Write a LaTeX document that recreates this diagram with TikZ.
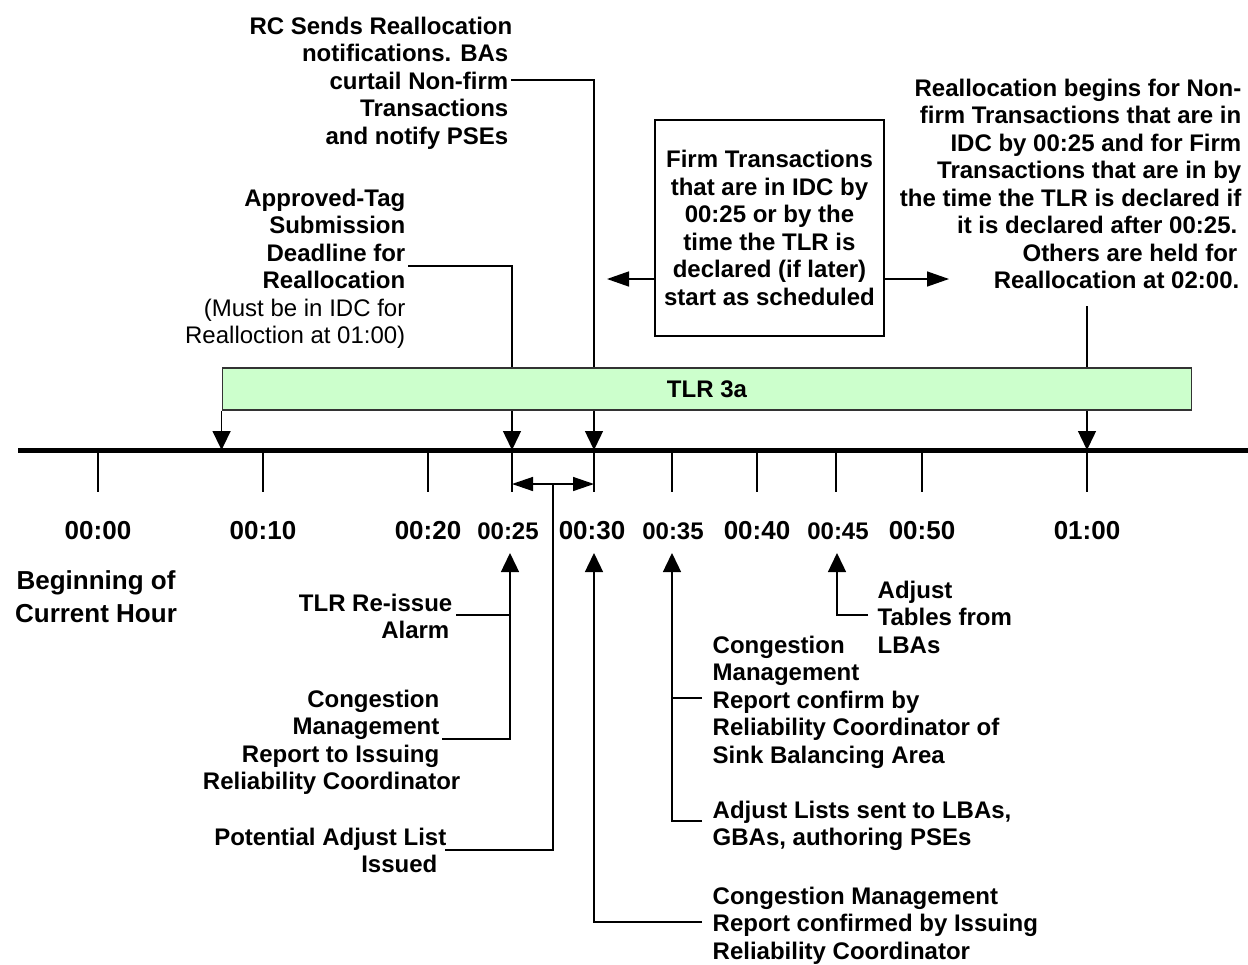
\documentclass[tikz,border=0pt]{standalone}
\usepackage{fontspec}
\setmainfont{Liberation Sans}
\usetikzlibrary{arrows.meta,calc,positioning}
\definecolor{tlrgreen}{HTML}{CCFFCC}
\newcommand{\notesize}{\fontsize{13.66pt}{15.65pt}\selectfont}
\newcommand{\hoursize}{\fontsize{14.8pt}{18.8pt}\selectfont}
\tikzset{
    timeline/.style={x=0.02cm,y=-0.02cm,line width=0.8pt,
                     >={Triangle[length=0.38cm,width=0.36cm]}},
    note/.style={font=\notesize\bfseries,inner sep=0pt,anchor=north east,align=right},
    noteleft/.style={font=\notesize\bfseries,inner sep=0pt,anchor=north west,align=left},
    hourlbl/.style={font=\hoursize\bfseries,inner sep=0pt},
    minlbl/.style={font=\notesize\bfseries,inner sep=0pt},
    tlrbar/.style={draw=black!80,line width=0.6pt,fill=tlrgreen,minimum width=19.4cm,
                   minimum height=0.84cm,inner sep=0pt,font=\notesize\bfseries},
    rulebox/.style={draw,line width=1.1pt,minimum width=4.58cm,minimum height=4.32cm,
                    align=center,inner sep=0pt,font=\notesize\bfseries},
    boxarrow/.style={-{Triangle[length=0.44cm,width=0.3cm]}},
    spanarrow/.style={{Triangle[length=0.42cm,width=0.28cm]}-{Triangle[length=0.42cm,width=0.28cm]}},
}
\begin{document}
\begin{tikzpicture}[timeline]
\useasboundingbox (0,0) rectangle (1248,964);

% time axis
\coordinate (axl) at (18,450);
\coordinate (axr) at (1248,450);
\draw[line width=2.85pt] (axl) -- (axr);
\foreach \m/\x in {0/98,10/263,20/428,25/512,30/594,35/672,40/757,45/836,50/922,60/1087} {
    \coordinate (t\m) at (\x,450);
    \draw (t\m) -- ++(0,42);
}
\foreach \m/\x/\lbl in {0/98/00:00,10/263/00:10,20/428/00:20,30/592/00:30,40/757/00:40,50/922/00:50,60/1087/01:00}
    \node[hourlbl] (h\m) at (\x,531) {\lbl};
\foreach \m/\x/\lbl in {25/508/00:25,35/673/00:35,45/838/00:45}
    \node[minlbl] (h\m) at (\x,531) {\lbl};
\node[hourlbl,align=center,anchor=north] (hourstart) at (96,570) {Beginning of\\Current Hour};

% events above the axis
\node[note] (rc) at (509,16) {RC Sends Reallocation\kern-0.08cm\\notifications. BAs\\curtail Non-firm\\Transactions\\and notify PSEs};
\node[note] (tag) at (406,188) {Approved-Tag\\Submission\\Deadline for\\Reallocation\\{\mdseries (Must be in IDC for}\\{\mdseries Realloction at 01:00)}};
\coordinate (rcend) at (511,80);
\coordinate (tagend) at (408,266);
\draw[->] (rcend) -| (t30);
\draw[->] (tagend) -| (t25);

\node[rulebox] (firm) at (769.5,228) {Firm Transactions\\that are in IDC by\\00:25 or by the\\time the TLR is\\declared (if later)\\start as scheduled};
\coordinate (firml) at (607,279);
\coordinate (firmr) at (949,279);
\draw[boxarrow] (firm.west |- firml) -- (firml);
\draw[boxarrow] (firm.east |- firmr) -- (firmr);

\node[note] (realloc) at (1242,78) {Reallocation begins for Non-\\firm Transactions that are in\\IDC by 00:25 and for Firm\\Transactions that are in by\\the time the TLR is declared if\\it is declared after 00:25.\kern0.08cm\\Others are held for\kern0.08cm\\Reallocation at 02:00.\kern0.04cm};
\coordinate (reallocend) at (1087,306);
\draw[->] (reallocend) -- (t60);

\node[tlrbar] (tlr) at (707,389) {TLR 3a};
\draw[->] (tlr.south west) -- (tlr.south west |- t0);

% events below the axis
\coordinate (d25) at (512,484);
\coordinate (d30) at (594,484);
\coordinate (dmid) at ($(d25)!0.5!(d30)$);
\draw[spanarrow] (d25) -- (d30);

\coordinate (u25) at (510,553);
\coordinate (u30) at (594,553);
\coordinate (u35) at (672,553);
\coordinate (u45) at (837,553);

\node[note] (reissue) at (450,593) {TLR Re-issue\kern-0.06cm\\Alarm};
\coordinate (reissueend) at (456,615);
\draw (reissueend) -- (reissueend -| u25);

\node[note] (cmr) at (440,689) {Congestion\\Management\\Report to Issuing\\Reliability Coordinator\kern-0.42cm};
\coordinate (cmrend) at (442,739);
\draw[->] (cmrend) -| (u25);

\node[note] (pal) at (438,827) {Potential Adjust List\kern-0.18cm\\Issued};
\coordinate (palend) at (445,850);
\draw (palend) -| (dmid);

\node[noteleft] (adj) at (877,580) {Adjust\\Tables from\\LBAs};
\coordinate (adjend) at (868,615);
\draw[->] (adjend) -| (u45);

\node[noteleft] (cmc) at (712,635) {Congestion\\Management\\Report confirm by\\Reliability Coordinator of\\Sink Balancing Area};
\node[noteleft] (als) at (712,800) {Adjust Lists sent to LBAs,\\GBAs, authoring PSEs};
\coordinate (cmcend) at (702,698);
\coordinate (alsend) at (702,821);
\draw (cmcend) -- (cmcend -| u35);
\draw[->] (alsend) -| (u35);

\node[noteleft] (cmi) at (712,886) {Congestion Management\\Report confirmed by Issuing\\Reliability Coordinator};
\coordinate (cmiend) at (702,922);
\draw[->] (cmiend) -| (u30);
\end{tikzpicture}
\end{document}
